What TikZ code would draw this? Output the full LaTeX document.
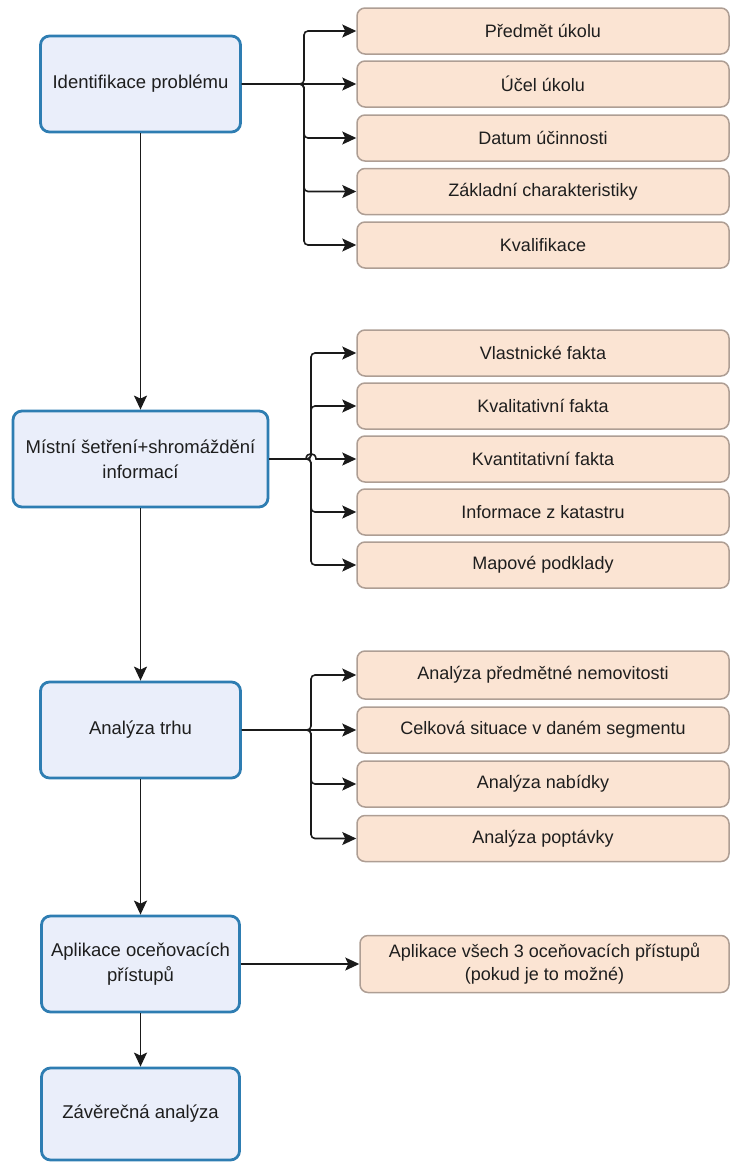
\documentclass[tikz,border=0pt]{standalone}
\usepackage{fontspec}
\setmainfont{Liberation Sans}
\usetikzlibrary{arrows.meta}
\definecolor{stepfill}{HTML}{EAEEFA}
\definecolor{stepline}{HTML}{2E7DB2}
\definecolor{itemfill}{HTML}{FBE4D3}
\definecolor{itemline}{HTML}{AE9E94}
\definecolor{txt}{HTML}{1E1E1E}
\definecolor{wire}{HTML}{1A1A1A}

\begin{document}
\begin{tikzpicture}[x=1pt,y=-1pt,
  stepbox/.style={draw=stepline, fill=stepfill, line width=2.8pt,
    rounded corners=9pt, minimum height=96pt, inner sep=2pt,
    align=center, text=txt, font=\fontsize{18.5}{25}\selectfont},
  itembox/.style={draw=itemline, fill=itemfill, line width=1.5pt,
    rounded corners=8pt, minimum width=372pt, minimum height=46pt,
    inner sep=2pt, align=center, text=txt, font=\fontsize{18}{23}\selectfont},
  conn/.style={draw=wire, line width=1.6pt,
    -{Stealth[length=14pt,width=13pt,inset=3pt]}},
  elbow/.style={rounded corners=4pt}]

\useasboundingbox (0,0) rectangle (731,1162);

% main process steps
\node[stepbox, minimum width=200pt] (s1) at (140.5,84) {Identifikace problému};
\node[stepbox, minimum width=255pt] (s2) at (140.5,459) {Místní šetření+shromáždění\\informací};
\node[stepbox, minimum width=200pt] (s3) at (140.5,730) {Analýza trhu};
\node[stepbox, minimum width=198pt] (s4) at (140.5,964) {Aplikace oceňovacích\\přístupů};
\node[stepbox, minimum width=198pt, minimum height=92pt] (s5) at (140.5,1114) {Závěrečná analýza};

% sub-items of step 1
\node[itembox] (a1) at (543,31) {Předmět úkolu};
\node[itembox] (a2) at (543,84) {Účel úkolu};
\node[itembox] (a3) at (543,138) {Datum účinnosti};
\node[itembox] (a4) at (543,191.5) {Základní charakteristiky};
\node[itembox] (a5) at (543,245) {Kvalifikace};

% sub-items of step 2
\node[itembox] (b1) at (543,353) {Vlastnické fakta};
\node[itembox] (b2) at (543,406) {Kvalitativní fakta};
\node[itembox] (b3) at (543,459) {Kvantitativní fakta};
\node[itembox] (b4) at (543,512) {Informace z katastru};
\node[itembox] (b5) at (543,565) {Mapové podklady};

% sub-items of step 3
\node[itembox, minimum height=48pt] (c1) at (543,675) {Analýza předmětné nemovitosti};
\node[itembox] (c2) at (543,730) {Celková situace v daném segmentu};
\node[itembox] (c3) at (543,784) {Analýza nabídky};
\node[itembox] (c4) at (543,838.5) {Analýza poptávky};

% sub-item of step 4
\node[itembox, minimum width=369pt, minimum height=57pt] (d1) at (544.5,964) {Aplikace všech 3 oceňovacích přístupů\\(pokud je to možné)};

% branching points
\coordinate (j1) at (304,84);
\coordinate (j2) at (311,459);
\coordinate (j3) at (311,730);

% main flow
\draw[conn] (s1.south) -- (s2.north);
\draw[conn] (s2.south) -- (s3.north);
\draw[conn] (s3.south) -- (s4.north);
\draw[conn] (s4.south) -- (s5.north);

% step 1 branches
\foreach \t in {a1,a3,a4,a5}
  \draw[conn, elbow] (s1.east) -- (j1) |- (\t.west);
\draw[conn] (s1.east) -- (a2.west);

% step 2 branches
\foreach \t in {b1,b2,b4,b5}
  \draw[conn, elbow] (s2.east) -- (j2) |- (\t.west);
\draw[conn] (s2.east) -- ([xshift=-5pt]j2)
  .. controls ([xshift=-5pt,yshift=7pt]j2) and ([xshift=5pt,yshift=7pt]j2) .. ([xshift=5pt]j2)
  -- (b3.west);

% step 3 branches
\foreach \t in {c1,c3,c4}
  \draw[conn, elbow] (s3.east) -- (j3) |- (\t.west);
\draw[conn] (s3.east) -- (c2.west);

% step 4 branch
\draw[conn] (s4.east) -- (d1.west);

\end{tikzpicture}
\end{document}
